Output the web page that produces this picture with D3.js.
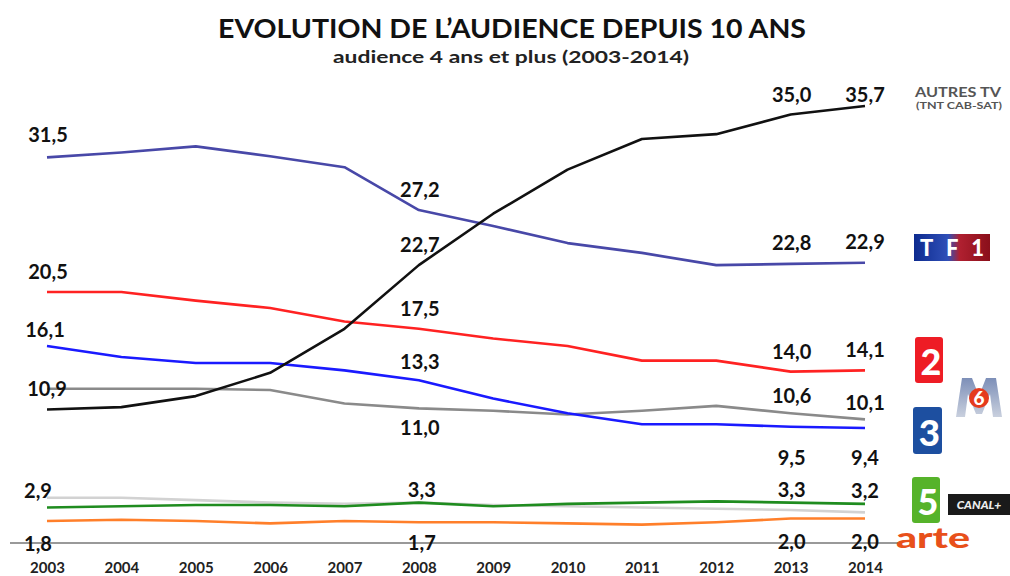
<!DOCTYPE html>
<html>
<head>
<meta charset="utf-8">
<script src="https://cdn.jsdelivr.net/npm/d3@7"></script>
<style>
  body { margin: 0; background: #fff; }
  text { font-family: Lato, "Open Sans", sans-serif; }
</style>
</head>
<body>
<script>
// Data
const years = [2003, 2004, 2005, 2006, 2007, 2008, 2009, 2010, 2011, 2012, 2013, 2014];

const autresTv = [10.9, 11.1, 12.0, 13.9, 17.5, 22.7, 26.9, 30.5, 33.0, 33.4, 35.0, 35.7];
const tf1 = [31.5, 31.9, 32.4, 31.6, 30.7, 27.2, 25.9, 24.5, 23.7, 22.7, 22.8, 22.9];
const france2 = [20.5, 20.5, 19.8, 19.2, 18.1, 17.5, 16.7, 16.1, 14.9, 14.9, 14.0, 14.1];
const france3 = [16.1, 15.2, 14.7, 14.7, 14.1, 13.3, 11.8, 10.6, 9.7, 9.7, 9.5, 9.4];
const m6 = [12.6, 12.6, 12.6, 12.5, 11.4, 11.0, 10.8, 10.5, 10.8, 11.2, 10.6, 10.1];
const canalPlus = [3.7, 3.7, 3.5, 3.3, 3.2, 3.3, 3.1, 3.0, 2.9, 2.8, 2.7, 2.5];
const france5 = [2.9, 3.0, 3.1, 3.1, 3.0, 3.3, 3.0, 3.2, 3.3, 3.4, 3.3, 3.2];
const arte = [1.8, 1.9, 1.8, 1.6, 1.8, 1.7, 1.7, 1.6, 1.5, 1.7, 2.0, 2.0];

const series = [
  { name: "Canal+", values: canalPlus, color: "#d2d2d2" },
  { name: "Arte", values: arte, color: "#ff7f2a" },
  { name: "France 5", values: france5, color: "#1f8c1f" },
  { name: "M6", values: m6, color: "#8a8a8a" },
  { name: "France 3", values: france3, color: "#1a1aff" },
  { name: "France 2", values: france2, color: "#ff2222" },
  { name: "TF1", values: tf1, color: "#4848a8" },
  { name: "Autres TV", values: autresTv, color: "#111111" },
];

// which values get a number written next to them
const labelYears = [2003, 2008, 2013, 2014];
const labelled = ["Autres TV", "TF1", "France 2", "France 3", "M6", "France 5", "Arte"];

const width = 1010;
const height = 576;

const svg = d3.select("body").append("svg")
  .attr("width", width)
  .attr("height", height);

const x = d3.scalePoint().domain(years).range([47, 865]);
const y = d3.scaleLinear().domain([0, 35.7]).range([543, 106]);

const fr = d3.formatLocale({ decimal: ",", thousands: " ", grouping: [3], currency: ["", "€"] });
const fmt = fr.format(".1f");

// title
svg.append("text")
  .attr("x", 512).attr("y", 38)
  .attr("text-anchor", "middle")
  .attr("font-size", 27).attr("font-weight", "bold").attr("fill", "#111")
  .attr("textLength", 588).attr("lengthAdjust", "spacingAndGlyphs")
  .text("EVOLUTION DE L’AUDIENCE DEPUIS 10 ANS");

svg.append("text")
  .attr("x", 511).attr("y", 63)
  .attr("text-anchor", "middle")
  .attr("font-size", 17).attr("font-weight", "bold").attr("fill", "#222")
  .attr("textLength", 356).attr("lengthAdjust", "spacingAndGlyphs")
  .text("audience 4 ans et plus (2003-2014)");

// zero line
svg.append("line")
  .attr("x1", 10).attr("x2", 900)
  .attr("y1", y(0)).attr("y2", y(0))
  .attr("stroke", "#777").attr("stroke-width", 1.5);

// year labels
const xAxis = svg.append("g")
  .attr("transform", `translate(0,${y(0) + 16})`)
  .call(d3.axisBottom(x).tickSize(0).tickFormat(d3.format("d")));
xAxis.select(".domain").remove();
xAxis.selectAll("text")
  .attr("font-family", "Lato, sans-serif")
  .attr("font-size", 15).attr("font-weight", "bold").attr("fill", "#222");

// lines
const line = d3.line()
  .x((d, i) => x(years[i]))
  .y((d) => y(d));

svg.selectAll("path.serie")
  .data(series)
  .enter()
  .append("path")
  .attr("class", "serie")
  .attr("fill", "none")
  .attr("stroke", (s) => s.color)
  .attr("stroke-width", 2.6)
  .attr("stroke-linejoin", "round")
  .attr("d", (s) => line(s.values));

// value labels: offset from the line point (dx, dy of the baseline)
const place = {
  "Autres TV-2003": [0, -14], "Autres TV-2008": [1, -13], "Autres TV-2013": [1, -13], "Autres TV-2014": [0, -4],
  "TF1-2003": [1, -15], "TF1-2008": [1, -13], "TF1-2013": [1, -14], "TF1-2014": [0, -14],
  "France 2-2003": [1, -13], "France 2-2008": [1, -13], "France 2-2013": [1, -13], "France 2-2014": [0, -13],
  "France 3-2003": [-2, -9], "France 3-2008": [1, -11], "France 3-2013": [1, 38], "France 3-2014": [0, 37],
  "M6-2008": [1, 27], "M6-2013": [1, -10], "M6-2014": [0, -9],
  "France 5-2003": [-9, -10], "France 5-2008": [3, -6], "France 5-2013": [1, -6], "France 5-2014": [0, -6],
  "Arte-2003": [-9, 30], "Arte-2008": [3, 28], "Arte-2013": [1, 30], "Arte-2014": [0, 30],
};

const labels = [];
series.filter((s) => labelled.includes(s.name)).forEach((s) => {
  labelYears.forEach((yr) => {
    const key = s.name + "-" + yr;
    if (!place[key]) return;
    const i = years.indexOf(yr);
    labels.push({ key: key, year: yr, value: s.values[i] });
  });
});

svg.selectAll("text.val")
  .data(labels)
  .enter()
  .append("text")
  .attr("class", "val")
  .attr("x", (d) => x(d.year) + place[d.key][0])
  .attr("y", (d) => y(d.value) + place[d.key][1])
  .attr("text-anchor", "middle")
  .attr("font-size", 20).attr("font-weight", "bold").attr("fill", "#111")
  .text((d) => fmt(d.value));

// channel logos on the right
const logos = svg.append("g");

logos.append("text")
  .attr("x", 958).attr("y", 97).attr("text-anchor", "middle")
  .attr("font-size", 14).attr("font-weight", "bold").attr("fill", "#555")
  .attr("textLength", 86).attr("lengthAdjust", "spacingAndGlyphs")
  .text("AUTRES TV");
logos.append("text")
  .attr("x", 959).attr("y", 109).attr("text-anchor", "middle")
  .attr("font-size", 9.5).attr("font-weight", "bold").attr("fill", "#555")
  .attr("textLength", 86).attr("lengthAdjust", "spacingAndGlyphs")
  .text("(TNT CAB-SAT)");

const defs = svg.append("defs");
const tfGrad = defs.append("linearGradient").attr("id", "tf1grad");
tfGrad.append("stop").attr("offset", "0%").attr("stop-color", "#0d2b8f");
tfGrad.append("stop").attr("offset", "45%").attr("stop-color", "#3050b8");
tfGrad.append("stop").attr("offset", "60%").attr("stop-color", "#b02030");
tfGrad.append("stop").attr("offset", "100%").attr("stop-color", "#8a0f1a");

const m6Grad = defs.append("linearGradient").attr("id", "m6grad")
  .attr("x1", 0).attr("y1", 0).attr("x2", 0).attr("y2", 1);
m6Grad.append("stop").attr("offset", "0%").attr("stop-color", "#7d8fb8");
m6Grad.append("stop").attr("offset", "100%").attr("stop-color", "#c9d0de");

logos.append("rect")
  .attr("x", 914).attr("y", 234).attr("width", 76).attr("height", 27)
  .attr("fill", "url(#tf1grad)");
logos.append("text")
  .attr("x", 952).attr("y", 256).attr("text-anchor", "middle")
  .attr("font-size", 22).attr("font-weight", 900).attr("fill", "#fff")
  .attr("textLength", 64).attr("lengthAdjust", "spacing")
  .text("TF1");

function boxLogo(bx, by, w, h, color, label) {
  logos.append("rect")
    .attr("x", bx).attr("y", by).attr("width", w).attr("height", h)
    .attr("rx", 3).attr("fill", color);
  logos.append("text")
    .attr("x", bx + w / 2 + 2).attr("y", by + h * 0.82).attr("text-anchor", "middle")
    .attr("font-size", h * 0.78).attr("font-weight", 900).attr("fill", "#fff")
    .text(label);
}
boxLogo(915, 337, 28, 46, "#ee1c25", "2");
boxLogo(913, 407, 29, 47, "#1d4fa0", "3");
boxLogo(912, 477, 28, 46, "#56b32a", "5");

// M6: silver "M" shape with the red 6 in front
logos.append("path")
  .attr("d", "M956,417 L962,378 L972,378 L979,396 L986,378 L996,378 L1002,417 L993,417 L990,394 L982,414 L976,414 L968,394 L965,417 Z")
  .attr("fill", "url(#m6grad)");
logos.append("circle")
  .attr("cx", 979).attr("cy", 398).attr("r", 10).attr("fill", "#e53a1e");
logos.append("text")
  .attr("x", 979).attr("y", 405).attr("text-anchor", "middle")
  .attr("font-size", 19).attr("font-weight", 900).attr("fill", "#fff")
  .text("6");

// Canal+
logos.append("rect")
  .attr("x", 948).attr("y", 494).attr("width", 62).attr("height", 21)
  .attr("fill", "#1a1a1a");
logos.append("text")
  .attr("x", 979).attr("y", 509).attr("text-anchor", "middle")
  .attr("font-size", 12).attr("font-weight", 900).attr("font-style", "italic").attr("fill", "#eee")
  .text("CANAL+");

// arte
logos.append("text")
  .attr("x", 933).attr("y", 548).attr("text-anchor", "middle")
  .attr("font-size", 28).attr("font-weight", 900).attr("fill", "#e8501a")
  .attr("textLength", 74).attr("lengthAdjust", "spacingAndGlyphs")
  .text("arte");
</script>
</body>
</html>
